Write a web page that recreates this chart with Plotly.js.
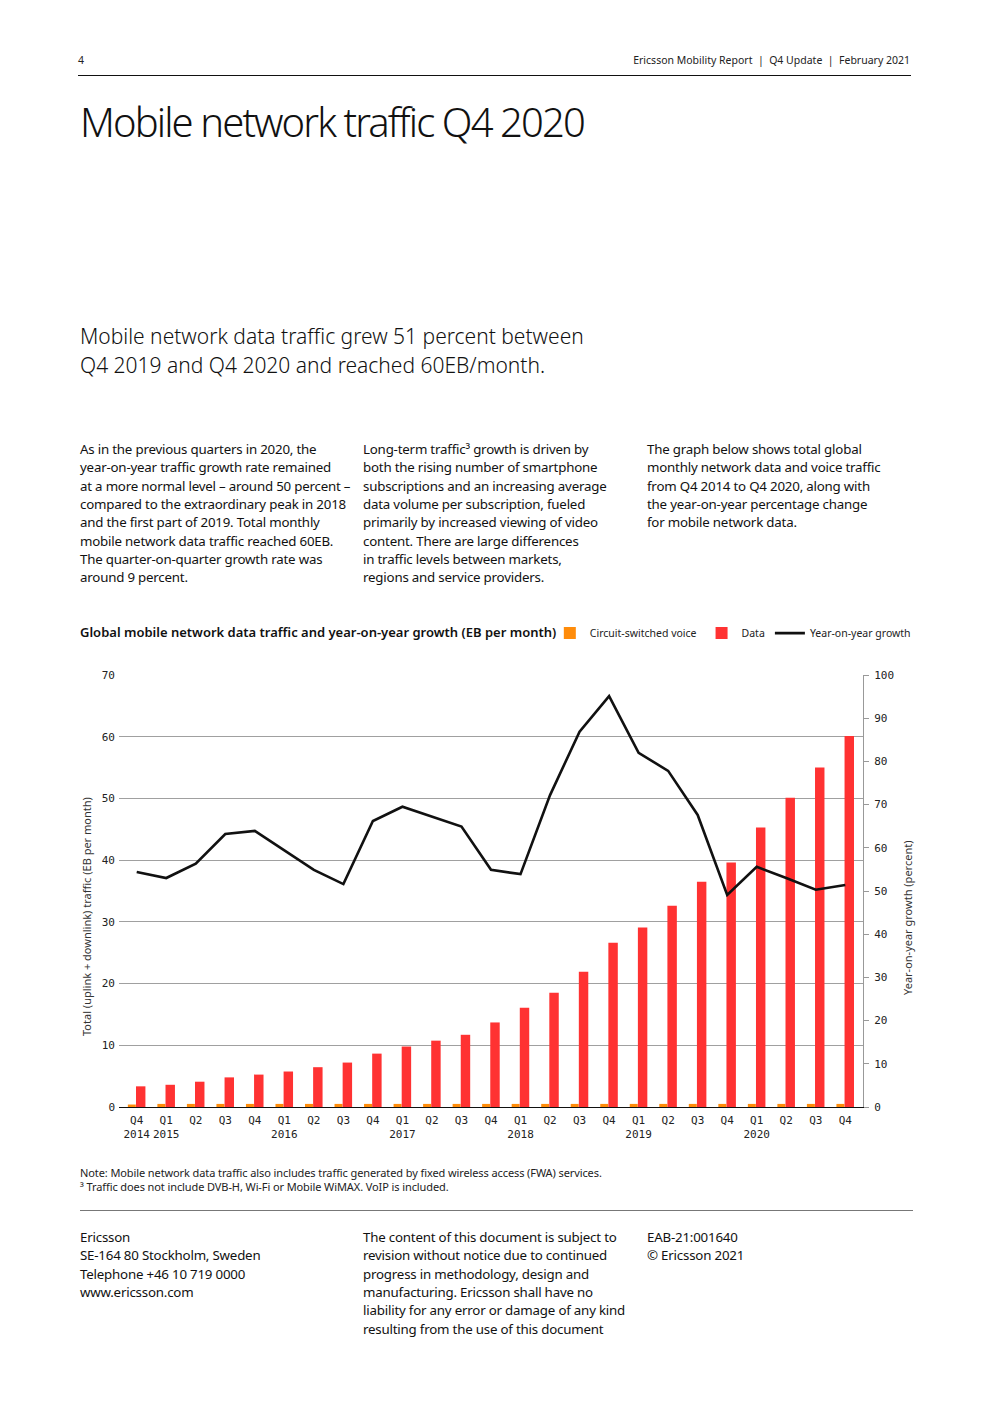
<!DOCTYPE html>
<html>
<head>
<meta charset="utf-8">
<script src="https://cdn.plot.ly/plotly-3.0.1.min.js"></script>
<style>
  html, body { margin:0; padding:0; background:#fff; }
  body { width:992px; height:1403px; position:relative; font-family:"Noto Sans", "Open Sans", sans-serif; color:#111; }
  .abs { position:absolute; white-space:nowrap; }
  .hdr { font-size:10.5px; color:#222; }
  .title { left:80px; top:94px; font-size:40px; font-weight:300; letter-spacing:-1.9px; color:#111; }
  .sub { left:80px; top:322px; font-size:21px; font-weight:300; line-height:29px; color:#111; }
  .body { font-size:13.3px; line-height:18.35px; color:#111; letter-spacing:-0.2px; }
  .note { font-size:11px; line-height:14px; color:#222; left:80px; top:1166px; letter-spacing:-0.1px; }
  .foot { font-size:13.3px; line-height:18.35px; color:#111; letter-spacing:-0.2px; }
  #chart { position:absolute; left:0; top:600px; width:992px; height:560px; }
</style>
</head>
<body>
<div class="abs hdr" style="left:78px; top:53px;">4</div>
<div class="abs hdr" style="right:82px; top:53px;">Ericsson Mobility Report &nbsp;|&nbsp; Q4 Update &nbsp;|&nbsp; February 2021</div>
<div class="abs" style="left:78px; top:75px; width:833px; height:1px; background:#111;"></div>

<div class="abs title">Mobile network traffic Q4 2020</div>

<div class="abs sub">Mobile network data traffic grew 51 percent between<br>Q4 2019 and Q4 2020 and reached 60EB/month.</div>

<div class="abs body" style="left:80px; top:440px;">As in the previous quarters in 2020, the<br>year-on-year traffic growth rate remained<br>at a more normal level – around 50 percent –<br>compared to the extraordinary peak in 2018<br>and the first part of 2019. Total monthly<br>mobile network data traffic reached 60EB.<br>The quarter-on-quarter growth rate was<br>around 9 percent.</div>
<div class="abs body" style="left:363px; top:440px;">Long-term traffic³ growth is driven by<br>both the rising number of smartphone<br>subscriptions and an increasing average<br>data volume per subscription, fueled<br>primarily by increased viewing of video<br>content. There are large differences<br>in traffic levels between markets,<br>regions and service providers.</div>
<div class="abs body" style="left:647px; top:440px;">The graph below shows total global<br>monthly network data and voice traffic<br>from Q4 2014 to Q4 2020, along with<br>the year-on-year percentage change<br>for mobile network data.</div>

<div id="chart"></div>

<div class="abs note">Note: Mobile network data traffic also includes traffic generated by fixed wireless access (FWA) services.<br>³ Traffic does not include DVB-H, Wi-Fi or Mobile WiMAX. VoIP is included.</div>
<div class="abs" style="left:80px; top:1210px; width:833px; height:1px; background:#777;"></div>

<div class="abs foot" style="left:80px; top:1228px;">Ericsson<br>SE-164 80 Stockholm, Sweden<br>Telephone +46 10 719 0000<br>www.ericsson.com</div>
<div class="abs foot" style="left:363px; top:1228px;">The content of this document is subject to<br>revision without notice due to continued<br>progress in methodology, design and<br>manufacturing. Ericsson shall have no<br>liability for any error or damage of any kind<br>resulting from the use of this document</div>
<div class="abs foot" style="left:647px; top:1228px;">EAB-21:001640<br>© Ericsson 2021</div>

<script>
const quarters = ["Q4 2014","Q1 2015","Q2 2015","Q3 2015","Q4 2015","Q1 2016","Q2 2016","Q3 2016","Q4 2016",
  "Q1 2017","Q2 2017","Q3 2017","Q4 2017","Q1 2018","Q2 2018","Q3 2018","Q4 2018",
  "Q1 2019","Q2 2019","Q3 2019","Q4 2019","Q1 2020","Q2 2020","Q3 2020","Q4 2020"];
const tickLabels = ["Q4<br>2014","Q1<br>2015","Q2","Q3","Q4","Q1<br>2016","Q2","Q3","Q4",
  "Q1<br>2017","Q2","Q3","Q4","Q1<br>2018","Q2","Q3","Q4",
  "Q1<br>2019","Q2","Q3","Q4","Q1<br>2020","Q2","Q3","Q4"];
const voiceEB = [0.4,0.5,0.5,0.5,0.5,0.5,0.5,0.5,0.5,0.5,0.5,0.5,0.5,0.5,0.5,0.5,0.5,0.5,0.5,0.5,0.5,0.5,0.5,0.5,0.5];
const dataEB = [3.35,3.6,4.1,4.8,5.25,5.75,6.45,7.2,8.65,9.8,10.75,11.7,13.7,16.1,18.5,21.9,26.6,29.1,32.6,36.5,39.6,45.3,50.1,55.0,60.1];
const growthPct = [54.4,53.0,56.3,63.2,63.9,59.5,54.9,51.6,66.2,69.5,67.2,64.9,54.9,53.9,72.2,86.9,95.1,82.0,77.8,67.6,49.1,55.6,53.0,50.3,51.4];

const tickFont = {family:"DejaVu Sans Mono, monospace", size:11, color:"#222"};
const sansFont = "Noto Sans, Open Sans, sans-serif";

const traces = [
  {type:"bar", name:"Circuit-switched voice", x:quarters, y:voiceEB, marker:{color:"#FF8C0A"},
   offset:-0.30, width:0.27},
  {type:"bar", name:"Data", x:quarters, y:dataEB, marker:{color:"#FF3232"},
   offset:-0.025, width:0.32},
  {type:"scatter", mode:"lines", name:"Year-on-year growth", x:quarters, y:growthPct, yaxis:"y2",
   line:{color:"#111", width:2.6}}
];

const layout = {
  width:992, height:560,
  margin:{l:119, r:129, t:75, b:53},
  paper_bgcolor:"#fff", plot_bgcolor:"#fff",
  barmode:"overlay",
  showlegend:true,
  title:{text:"Global mobile network data traffic and year-on-year growth (EB per month)",
    x:80/992, xref:"container", xanchor:"left", y:1-(632-600)/560, yref:"container", yanchor:"middle",
    font:{family:sansFont, size:13, color:"#111", weight:600}},
  legend:{orientation:"h", x:1.071, xanchor:"right", y:1.097, yanchor:"middle",
    font:{family:sansFont, size:10.5, color:"#222"}, bgcolor:"rgba(0,0,0,0)", traceorder:"normal",
    itemwidth:30},
  xaxis:{type:"category", range:[-0.6,24.6], tickmode:"array", tickvals:quarters, ticktext:tickLabels,
    tickfont:tickFont, showgrid:false, showline:true, linecolor:"#111", linewidth:1.3,
    ticks:"", zeroline:false, fixedrange:true, ticklabelstandoff:2},
  yaxis:{range:[0,70], dtick:10, tickfont:tickFont, showgrid:true, gridcolor:"#a0a0a0", gridwidth:1,
    zeroline:false, showline:false, ticks:"", ticklabelstandoff:3, fixedrange:true},
  yaxis2:{overlaying:"y", side:"right", range:[0,100], dtick:10, tickfont:tickFont, showgrid:false,
    zeroline:false, showline:true, linecolor:"#999", linewidth:1, ticks:"outside", ticklen:5,
    tickcolor:"#999", fixedrange:true, ticklabelstandoff:3},
  annotations:[
    {text:"Total (uplink + downlink) traffic (EB per month)", xref:"paper", yref:"paper",
     x:(86-119)/744, y:(1107-917)/432, textangle:-90, showarrow:false, xanchor:"center", yanchor:"middle",
     font:{family:sansFont, size:11, color:"#333"}},
    {text:"Year-on-year growth (percent)", xref:"paper", yref:"paper",
     x:(907-119)/744, y:(1107-918)/432, textangle:-90, showarrow:false, xanchor:"center", yanchor:"middle",
     font:{family:sansFont, size:11, color:"#333"}}
  ]
};

Plotly.newPlot("chart", traces, layout, {staticPlot:true, displayModeBar:false});
</script>
</body>
</html>
